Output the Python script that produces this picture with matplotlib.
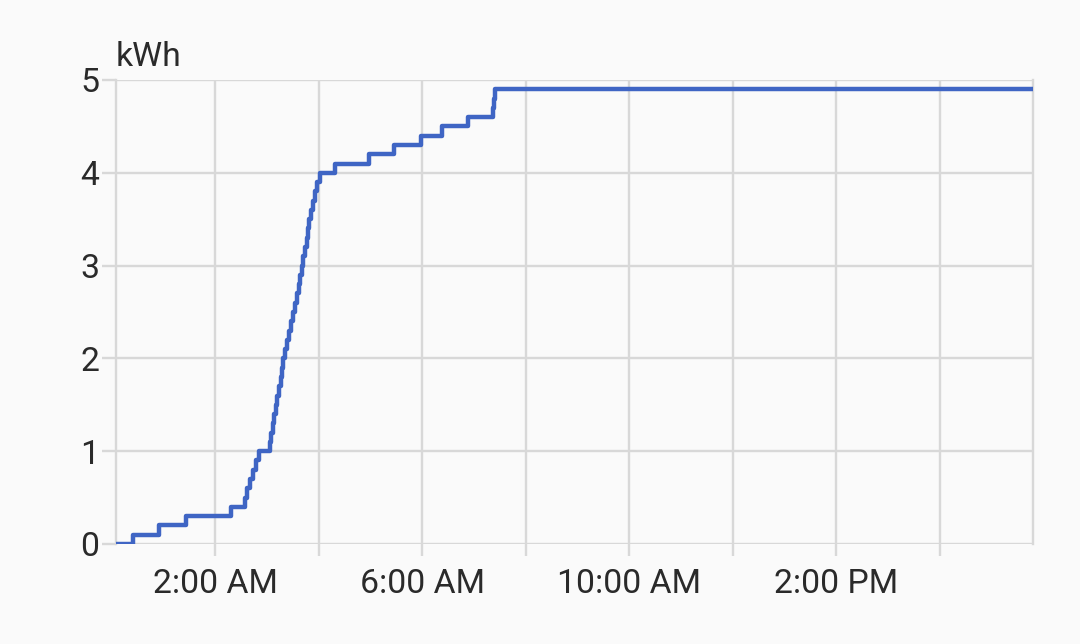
import matplotlib
matplotlib.use("Agg")
import matplotlib.pyplot as plt

# ---- data ----
times = ["00:05", "00:25", "00:55", "01:26", "02:18", "02:34", "02:37", "02:40",
         "02:44", "02:47", "02:51", "03:03", "03:05", "03:07", "03:08", "03:11",
         "03:12", "03:14", "03:16", "03:18", "03:19", "03:21", "03:23", "03:26",
         "03:28", "03:30", "03:33", "03:35", "03:37", "03:38", "03:41", "03:42",
         "03:44", "03:46", "03:48", "03:49", "03:51", "03:53", "03:56", "03:58",
         "04:01", "04:19", "04:58", "05:27", "05:58", "06:23", "06:53", "07:22",
         "07:23", "07:24", "17:48"]
energy_kwh = [0.0, 0.1, 0.2, 0.3, 0.4, 0.5, 0.6, 0.7,
              0.8, 0.9, 1.0, 1.1, 1.2, 1.3, 1.4, 1.5,
              1.6, 1.7, 1.8, 1.9, 2.0, 2.1, 2.2, 2.3,
              2.4, 2.5, 2.6, 2.7, 2.8, 2.9, 3.0, 3.1,
              3.2, 3.3, 3.4, 3.5, 3.6, 3.7, 3.8, 3.9,
              4.0, 4.1, 4.2, 4.3, 4.4, 4.5, 4.6, 4.7,
              4.8, 4.9, 4.9]
y_ticks = [0, 1, 2, 3, 4, 5]
x_tick_hours = [2, 4, 6, 8, 10, 12, 14, 16]
x_tick_labels = ["2:00 AM", "", "6:00 AM", "", "10:00 AM", "", "2:00 PM", ""]
unit_label = "kWh"

hours = [int(t[:2]) + int(t[3:]) / 60 for t in times]

plt.rcParams['font.family'] = ['Roboto', 'DejaVu Sans']

BG = "#fafafa"
GRID = "#d8d8d8"
LINE = "#3f65c4"
TEXT = "#2a2a2a"

fig = plt.figure(figsize=(10.8, 6.44), dpi=100, facecolor=BG)
ax = fig.add_axes([116 / 1080, 1 - 544 / 644, (1033 - 116) / 1080, (544 - 80) / 644])
ax.set_facecolor(BG)

ax.plot(hours, energy_kwh, drawstyle="steps-post", color=LINE, lw=3.2,
        solid_joinstyle="round", solid_capstyle="round", zorder=3)

ax.set_xlim(hours[0], hours[-1])
ax.set_ylim(0, 5)
ax.set_yticks(y_ticks)
ax.set_xticks(x_tick_hours)
ax.set_xticklabels(x_tick_labels)

ax.grid(True, color=GRID, lw=1.7, zorder=0)
ax.tick_params(axis="y", length=10, width=1.7, color=GRID, pad=2,
               labelsize=24.3, labelcolor=TEXT)
ax.tick_params(axis="x", length=8.6, width=1.7, color=GRID, pad=9,
               labelsize=24.3, labelcolor=TEXT)
for s in ["left", "right"]:
    ax.spines[s].set_color(GRID)
    ax.spines[s].set_linewidth(1.7)
for s in ["top", "bottom"]:
    ax.spines[s].set_visible(False)

fig.text(116 / 1080, 1 - 66 / 644, unit_label, fontsize=24.3, color=TEXT,
         ha="left", va="baseline")

fig.savefig("out.png", dpi=100, facecolor=BG)
